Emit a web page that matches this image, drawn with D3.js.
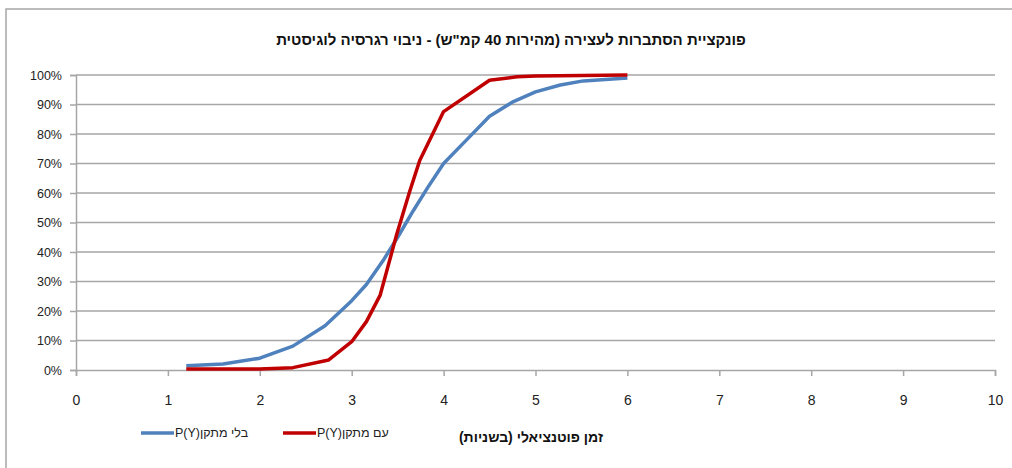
<!DOCTYPE html>
<html>
<head>
<meta charset="utf-8">
<script src="https://cdn.jsdelivr.net/npm/d3@7"></script>
<style>
  body { margin: 0; background: #fff; }
  text { font-family: "Liberation Sans", Arial, sans-serif; }
</style>
</head>
<body>
<div id="chart_div"></div>
<script>
// data (x = seconds, y = probability in %)
const xTicks = [0, 1, 2, 3, 4, 5, 6, 7, 8, 9, 10];
const yTicks = [0, 10, 20, 30, 40, 50, 60, 70, 80, 90, 100];

const noDeviceX = [1.2, 1.6, 2.0, 2.36, 2.71, 3.0, 3.16, 3.34, 3.5, 3.67, 3.83, 4.0, 4.25, 4.5, 4.76, 5.0, 5.27, 5.52, 6.0];
const noDeviceY = [1.4, 2.0, 4.0, 8.1, 15, 23.5, 29, 37, 45, 54, 62, 70, 78, 86, 91, 94.3, 96.6, 98, 99];

const withDeviceX = [1.2, 2.0, 2.36, 2.75, 3.0, 3.16, 3.31, 3.49, 3.63, 3.74, 4.0, 4.5, 4.8, 5.0, 6.0];
const withDeviceY = [0.3, 0.3, 0.8, 3.4, 9.6, 16.4, 25.4, 46, 60.4, 71, 87.6, 98.2, 99.4, 99.7, 100];

const chartTitle = 'פונקציית הסתברות לעצירה (מהירות 40 קמ"ש) - ניבוי רגרסיה לוגיסטית';
const xTitle = "זמן פוטנציאלי (בשניות)";
const seriesNames = ["P(Y)בלי מתקן", "P(Y)עם מתקן"];

const blueColor = "#4F81BD", redColor = "#C00000", gridColor = "#A6A6A6";

// set the dimensions and margins of the graph
const W = 1012, H = 468;
const margin = { top: 75, right: 17, bottom: 98, left: 76 },
  width = W - margin.left - margin.right,
  height = H - margin.top - margin.bottom;

const svg = d3.select("#chart_div")
  .append("svg")
  .attr("width", W)
  .attr("height", H);

// outer chart frame
svg.append("path")
  .attr("d", `M6,${H} L6,9 L${W},9`)
  .attr("fill", "none")
  .attr("stroke", gridColor)
  .attr("stroke-width", 1.5);

const g = svg.append("g")
  .attr("transform", `translate(${margin.left},${margin.top})`);

const x = d3.scaleLinear().domain([0, 10]).range([0, width]);
const y = d3.scaleLinear().domain([0, 100]).range([height, 0]);

// gridlines
g.selectAll(".grid")
  .data(yTicks.filter(d => d > 0))
  .enter()
  .append("line")
  .attr("x1", 0).attr("x2", width)
  .attr("y1", d => y(d)).attr("y2", d => y(d))
  .attr("stroke", gridColor)
  .attr("stroke-width", 1.5);

// Add Y axis
const yAxis = g.append("g")
  .call(d3.axisLeft(y).tickValues(yTicks).tickSize(6).tickPadding(8).tickFormat(d => d + "%"));
yAxis.select(".domain").attr("stroke", gridColor).attr("stroke-width", 1.5);
yAxis.selectAll(".tick line").attr("stroke", gridColor).attr("stroke-width", 1.5);
yAxis.selectAll("text").attr("font-size", 12.5).attr("fill", "#222")
  .style("font-family", "'Liberation Sans', Arial, sans-serif");

// Add X axis
const xAxis = g.append("g")
  .attr("transform", `translate(0, ${height})`)
  .call(d3.axisBottom(x).tickValues(xTicks).tickSize(6).tickPadding(19));
xAxis.select(".domain").attr("stroke", gridColor).attr("stroke-width", 1.5);
xAxis.selectAll(".tick line").attr("stroke", gridColor).attr("stroke-width", 1.5);
xAxis.selectAll("text").attr("font-size", 14).attr("fill", "#222")
  .style("font-family", "'Liberation Sans Narrow', 'Liberation Sans', Arial, sans-serif");

const line = d3.line()
  .x(d => x(d[0]))
  .y(d => y(d[1]));

g.append("path")
  .datum(d3.zip(noDeviceX, noDeviceY))
  .attr("fill", "none")
  .attr("stroke", blueColor)
  .attr("stroke-width", 3.5)
  .attr("stroke-linejoin", "round")
  .attr("d", line);

g.append("path")
  .datum(d3.zip(withDeviceX, withDeviceY))
  .attr("fill", "none")
  .attr("stroke", redColor)
  .attr("stroke-width", 3.5)
  .attr("stroke-linejoin", "round")
  .attr("d", line);

// title
svg.append("text")
  .attr("x", 511)
  .attr("y", 45)
  .attr("text-anchor", "middle")
  .attr("font-size", 15)
  .attr("font-weight", "bold")
  .attr("fill", "#111")
  .style("font-family", "'Liberation Sans Narrow', 'Liberation Sans', Arial, sans-serif")
  .text(chartTitle);

// x axis title
svg.append("text")
  .attr("x", 531)
  .attr("y", 442)
  .attr("text-anchor", "middle")
  .attr("font-size", 14)
  .attr("font-weight", "bold")
  .attr("fill", "#111")
  .style("font-family", "'Liberation Sans Narrow', 'Liberation Sans', Arial, sans-serif")
  .text(xTitle);

// legend
const legend = [
  { text: seriesNames[0], color: blueColor, x0: 141 },
  { text: seriesNames[1], color: redColor, x0: 283 }
];
const lg = svg.selectAll(".legend")
  .data(legend)
  .enter()
  .append("g")
  .attr("transform", d => `translate(${d.x0},433)`);
lg.append("line")
  .attr("x1", 0).attr("x2", 33)
  .attr("stroke", d => d.color)
  .attr("stroke-width", 3.5);
lg.append("text")
  .attr("x", 34)
  .attr("y", 4)
  .attr("font-size", 12.5)
  .attr("fill", "#222")
  .attr("direction", "ltr")
  .text(d => d.text);
</script>
</body>
</html>
